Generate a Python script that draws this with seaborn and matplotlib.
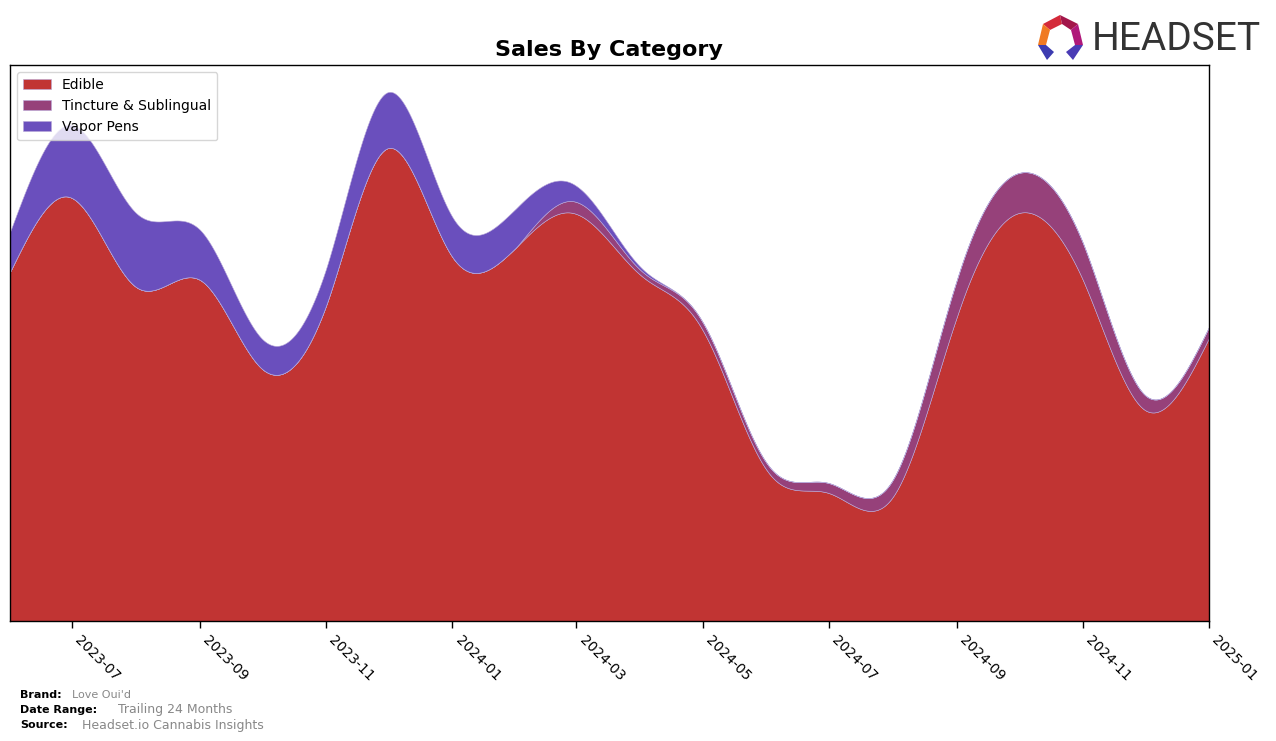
import numpy as np
import pandas as pd
import matplotlib
matplotlib.use("Agg")
import matplotlib.pyplot as plt
import matplotlib.dates as mdates
from matplotlib.patches import Polygon
import seaborn as sns

# ---- data (monthly sales, arbitrary units) ----
months = pd.date_range("2023-06-01", "2025-01-01", freq="MS")
edible = [349, 423, 334, 341, 252, 316, 473, 364, 374, 407,
          346, 291, 151, 128, 124, 304, 408, 341, 211, 283]
tincture = [0, 0, 0, 0, 0, 0, 0, 0, 0, 12,
            5, 8, 7, 10, 17, 37, 40, 37, 15, 11]
vapor_pens = [40, 73, 74, 50, 30, 37, 56, 40, 39, 16,
              3, 0, 0, 0, 0, 0, 0, 0, 0, 0]
categories = ["Edible", "Tincture & Sublingual", "Vapor Pens"]
colors = ["#C13433", "#96417A", "#6A4FBD"]
tick_dates = pd.date_range("2023-07-01", "2025-01-01", freq="2MS")

brand = "Love Oui'd"
date_range = "Trailing 24 Months"
source = "Headset.io Cannabis Insights"


def natural_cubic(x, y, xs):
    x = np.asarray(x, float); y = np.asarray(y, float)
    n = len(x); h = np.diff(x)
    A = np.zeros((n, n)); b = np.zeros(n)
    A[0, 0] = 1; A[-1, -1] = 1
    for i in range(1, n - 1):
        A[i, i - 1] = h[i - 1]
        A[i, i] = 2 * (h[i - 1] + h[i])
        A[i, i + 1] = h[i]
        b[i] = 3 * ((y[i + 1] - y[i]) / h[i] - (y[i] - y[i - 1]) / h[i - 1])
    c = np.linalg.solve(A, b)
    bc = (y[1:] - y[:-1]) / h - h * (2 * c[:-1] + c[1:]) / 3
    d = (c[1:] - c[:-1]) / (3 * h)
    idx = np.clip(np.searchsorted(x, xs) - 1, 0, n - 2)
    dx = xs - x[idx]
    return y[idx] + bc[idx] * dx + c[idx] * dx ** 2 + d[idx] * dx ** 3


sns.set_theme(style="ticks")
plt.rcParams["font.family"] = ["DejaVu Sans"]
plt.rcParams.update({"text.color": "black", "axes.labelcolor": "black",
                     "xtick.color": "black", "ytick.color": "black",
                     "axes.edgecolor": "black", "legend.labelcolor": "black"})

fig = plt.figure(figsize=(12.76, 7.41), dpi=100)
ax = fig.add_axes([10 / 1276, 1 - 621 / 741, 1199 / 1276, 556 / 741])

idx = np.arange(len(months))
fine = np.linspace(0, len(months) - 1, 800)
xnum = mdates.date2num(months.to_pydatetime())
xfine = np.interp(fine, idx, xnum)

e = np.asarray(edible, float)
t = np.asarray(tincture, float)
v = np.asarray(vapor_pens, float)
c1 = np.clip(natural_cubic(idx, e, fine), 0, None)
c2 = np.maximum(natural_cubic(idx, e + t, fine), c1)
c3 = np.maximum(natural_cubic(idx, e + t + v, fine), c2)
# where the category is absent, keep its band closed
t_on = np.interp(fine, idx, (t > 0).astype(float)) > 0
v_on = np.interp(fine, idx, (v > 0).astype(float)) > 0
c2 = np.where(t_on, c2, c1)
c3 = np.where(v_on, c3, c2)

ax.stackplot(xfine, c1, c2 - c1, c3 - c2, labels=categories, colors=colors,
             edgecolor="#b9a9d9", linewidth=0.4)

ax.set_xlim(xnum[0], xnum[-1])
ax.set_ylim(0, 556)
ax.set_yticks([])
ax.set_xticks(mdates.date2num(tick_dates.to_pydatetime()))
ax.set_xticklabels([d.strftime("%Y-%m") for d in tick_dates], rotation=-45,
                   ha="left", fontsize=10, color="black")
ax.tick_params(axis="x", length=5, width=1, color="black", pad=4)
for s in ax.spines.values():
    s.set_visible(True)
    s.set_color("black")
    s.set_linewidth(1)

leg = ax.legend(loc="upper left", fontsize=10, frameon=True,
                borderpad=0.45, handlelength=2, bbox_to_anchor=(0.0, 1.0))
leg.get_frame().set_edgecolor("#cccccc")

fig.text(609 / 1276, 1 - 50 / 741, "Sales By Category", ha="center",
         va="center", fontsize=16, fontweight="bold", color="black")

# footer
fig.text(20 / 1276, 1 - 695 / 741, "Brand:", fontsize=8, fontweight="bold", va="center")
fig.text(72 / 1276, 1 - 695 / 741, brand, fontsize=8, color="#888888", va="center")
fig.text(20 / 1276, 1 - 710 / 741, "Date Range:", fontsize=8, fontweight="bold", va="center")
fig.text(118 / 1276, 1 - 710 / 741, date_range, fontsize=9, color="#888888", va="center")
fig.text(20 / 1276, 1 - 725 / 741, "Source:", fontsize=8, fontweight="bold", va="center")
fig.text(82 / 1276, 1 - 725 / 741, source, fontsize=9, color="#888888", va="center")

# logo
fig.text(1092 / 1276, 1 - 39 / 741, "HEADSET", fontsize=28, color="#333333",
         va="center", ha="left", family="Roboto")
W, H = 1276, 741
def P(pts):
    return [(px / W, 1 - py / H) for px, py in pts]
logo_parts = [
    ([(1043, 24), (1060, 15), (1062, 24), (1050, 30)], "#d42a3a"),
    ([(1060, 15), (1078, 24), (1071, 30), (1062, 24)], "#a3164a"),
    ([(1078, 24), (1083, 45), (1075, 45), (1071, 30)], "#b0187a"),
    ([(1043, 24), (1050, 30), (1046, 45), (1038, 45)], "#f07a23"),
    ([(1038, 45), (1046, 45), (1054, 52), (1047, 60)], "#3c3bb0"),
    ([(1083, 45), (1075, 45), (1066, 52), (1073, 60)], "#4a3bb5"),
]
for pts, col in logo_parts:
    fig.add_artist(Polygon(P(pts), closed=True, facecolor=col, edgecolor="none",
                           transform=fig.transFigure))

fig.savefig("out.png", dpi=100)
